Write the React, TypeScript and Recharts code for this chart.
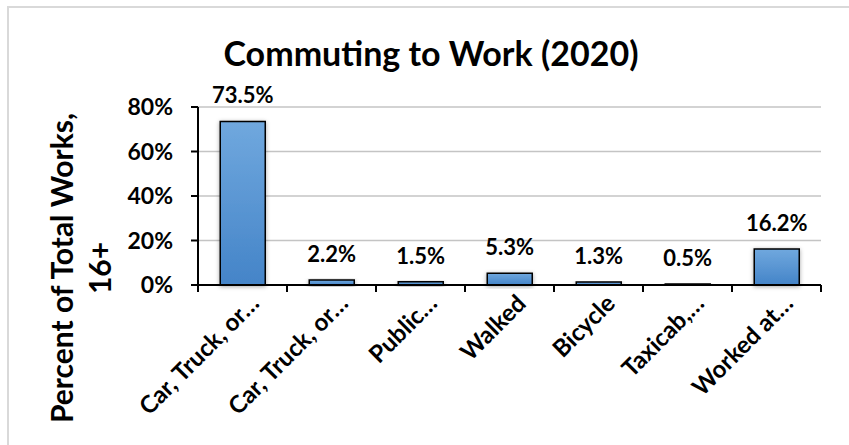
import React from "react";
import { BarChart, Bar, XAxis, YAxis, CartesianGrid, LabelList } from "recharts";

const categories = [
  "Car, Truck, or…",
  "Car, Truck, or…",
  "Public…",
  "Walked",
  "Bicycle",
  "Taxicab,…",
  "Worked at…",
];
const shares = [0.735, 0.022, 0.015, 0.053, 0.013, 0.005, 0.162];
const yTicks = [0, 0.2, 0.4, 0.6, 0.8];
const titleText = "Commuting to Work (2020)";
const yLabelLines = ["Percent of Total Works,", "16+"];

const data = categories.map((name, i) => ({ name, value: shares[i] }));

const FONT = "Lato, 'Open Sans', sans-serif";

const pct = (v: number) => `${Math.round(v * 100)}%`;
const pct1 = (v: number) => `${(v * 100).toFixed(1)}%`;

const XTick = (props: any) => {
  const { x, y, payload, index } = props;
  const off = payload?.offset ?? 0;
  const last = index === categories.length - 1;
  return (
    <g>
      <line x1={x - off} y1={y} x2={x - off} y2={y + 7} stroke="#000" strokeWidth={2} />
      {last && <line x1={x + off} y1={y} x2={x + off} y2={y + 7} stroke="#000" strokeWidth={2} />}
      <text
        x={0}
        y={0}
        transform={`translate(${x + 18},${y + 20}) rotate(-45)`}
        textAnchor="end"
        fontFamily={FONT}
        fontWeight={700}
        fontSize={24}
        fill="#000"
      >
        {payload.value}
      </text>
    </g>
  );
};

export default function App() {
  return (
    <div
      style={{
        position: "absolute",
        left: 0,
        top: 0,
        width: 849,
        height: 445,
        overflow: "hidden",
        background: "#fff",
      }}
    >
      <div
        style={{
          position: "absolute",
          left: 7,
          top: 6,
          width: 900,
          height: 500,
          border: "2px solid #d9d9d9",
          boxSizing: "border-box",
        }}
      />
      <svg
        width={849}
        height={445}
        style={{ position: "absolute", left: 0, top: 0, pointerEvents: "none" }}
      >
        <text
          x={431}
          y={66}
          textAnchor="middle"
          fontFamily={FONT}
          fontWeight={700}
          fontSize={34}
          fill="#000"
        >
          {titleText}
        </text>
        <text
          transform="translate(73,268) rotate(-90)"
          textAnchor="middle"
          fontFamily={FONT}
          fontWeight={700}
          fontSize={30}
          fill="#000"
        >
          <tspan x={0} dy={0}>
            {yLabelLines[0]}
          </tspan>
          <tspan x={0} dy={38}>
            {yLabelLines[1]}
          </tspan>
        </text>
      </svg>
      <div style={{ position: "absolute", left: 0, top: 0 }}>
        <BarChart
          width={849}
          height={445}
          data={data}
          margin={{ top: 107, right: 28, left: 0, bottom: 0 }}
          barCategoryGap="25%"
        >
          <defs>
            <linearGradient id="barGrad" x1="0" y1="0" x2="0" y2="1">
              <stop offset="0%" stopColor="#70a8de" />
              <stop offset="100%" stopColor="#4484c8" />
            </linearGradient>
            <filter id="barShadow" x="-30%" y="-30%" width="160%" height="160%">
              <feDropShadow dx="0" dy="1" stdDeviation="2" floodColor="#000" floodOpacity="0.35" />
            </filter>
          </defs>
          <CartesianGrid vertical={false} stroke="#c4c4c4" strokeWidth={1.5} />
          <XAxis
            dataKey="name"
            height={160}
            interval={0}
            tickLine={false}
            tickSize={0}
            tickMargin={0}
            axisLine={{ stroke: "#000", strokeWidth: 2 }}
            tick={<XTick />}
          />
          <YAxis
            width={198}
            domain={[0, 0.8]}
            ticks={yTicks}
            tickFormatter={pct}
            interval={0}
            tickSize={7}
            tickMargin={18}
            axisLine={{ stroke: "#000", strokeWidth: 2 }}
            tickLine={{ stroke: "#000", strokeWidth: 2 }}
            tick={{ fill: "#000", fontFamily: FONT, fontWeight: 700, fontSize: 23 }}
          />
          <Bar
            dataKey="value"
            fill="url(#barGrad)"
            stroke="#000"
            strokeWidth={1.5}
            filter="url(#barShadow)"
            isAnimationActive={false}
          >
            <LabelList
              dataKey="value"
              position="top"
              offset={18}
              formatter={(v: any) => pct1(Number(v))}
              style={{ fill: "#000", fontFamily: FONT, fontWeight: 700, fontSize: 22 }}
            />
          </Bar>
        </BarChart>
      </div>
    </div>
  );
}
